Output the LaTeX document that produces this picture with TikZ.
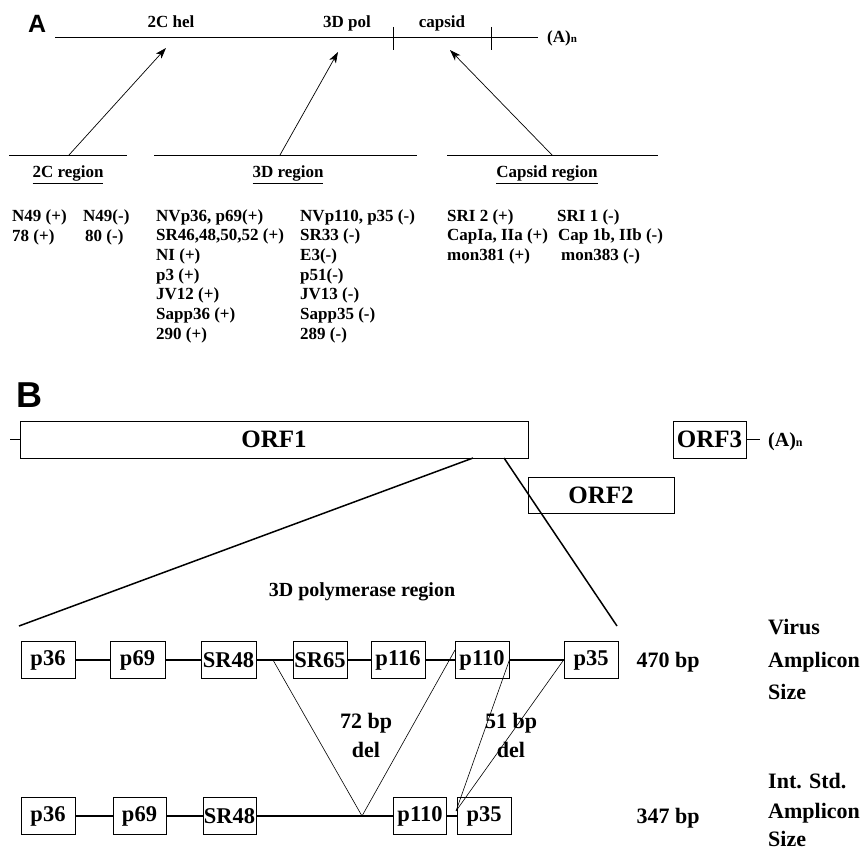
\documentclass[tikz,border=0pt]{standalone}
\usepackage{fontspec}
\setmainfont{Liberation Serif}
\newfontfamily\arialf{Liberation Sans}
\usetikzlibrary{arrows.meta}
\begin{document}
\begin{tikzpicture}[x=1pt,y=-1pt,
 lst/.style={font=\bfseries\fontsize{17}{20}\selectfont, inner sep=0pt, anchor=base west},
 hdr/.style={font=\bfseries\fontsize{17}{20}\selectfont, inner sep=0pt, anchor=base},
 thinline/.style={line width=0.8pt},
 arr/.style={line width=0.7pt, -{Stealth[length=11pt,width=7.5pt,inset=3pt]}},
 bx/.style={draw, line width=0.8pt, minimum height=37pt, inner sep=0pt, font=\bfseries\fontsize{22.5}{24}\selectfont},
 orfbx/.style={draw, line width=0.8pt, inner sep=0pt, font=\bfseries\fontsize{25}{28}\selectfont},
 conn/.style={line width=2pt},
 delline/.style={line width=0.6pt},
 big/.style={font=\bfseries\fontsize{22}{26}\selectfont, inner sep=0pt},
]
\useasboundingbox (0,0) rectangle (866,853);

% ---------- Part A ----------
\node[font=\arialf\bfseries\fontsize{25}{28}\selectfont, inner sep=0pt, anchor=base west] (labA) at (28,33) {A};
\coordinate (gL) at (55,37);
\coordinate (gR) at (538,37);
\draw[thinline] (gL) -- (gR);
\coordinate (t1a) at (393,27); \coordinate (t1b) at (393,50);
\coordinate (t2a) at (491,27); \coordinate (t2b) at (491,50);
\draw[thinline] (t1a) -- (t1b);
\draw[thinline] (t2a) -- (t2b);
\node[font=\bfseries\fontsize{17}{20}\selectfont, inner sep=0pt, anchor=base west] (polyA) at (547,43) {(A)\fontsize{11}{12}\selectfont n};
\node[hdr] (h2c) at (171,28) {2C hel};
\node[hdr] (h3d) at (347,28) {3D pol};
\node[hdr] (hcap) at (442,28) {capsid};

\coordinate (r2a) at (9,155);   \coordinate (r2b) at (127,155);
\coordinate (r3a) at (154,155); \coordinate (r3b) at (417,155);
\coordinate (rca) at (447,155); \coordinate (rcb) at (658,155);
\draw[thinline] (r2a) -- (r2b);
\draw[thinline] (r3a) -- (r3b);
\draw[thinline] (rca) -- (rcb);

\coordinate (a1s) at (69,155);  \coordinate (a1e) at (166,48);
\coordinate (a2s) at (280,155); \coordinate (a2e) at (338,52);
\coordinate (a3s) at (552,155); \coordinate (a3e) at (450,50);
\draw[arr] (a1s) -- (a1e);
\draw[arr] (a2s) -- (a2e);
\draw[arr] (a3s) -- (a3e);

\node[hdr] (reg2c) at (68,178) {\underline{2C region}};
\node[hdr] (reg3d) at (288,178) {\underline{3D region}};
\node[hdr] (regcap) at (547,178) {\underline{Capsid region}};

% lists
\node[lst] (c1r1) at (12,221) {N49 (+)};
\node[lst] (c1r2) at (12,241) {78 (+)};
\node[lst] (c2r1) at (83,221) {N49(-)};
\node[lst] (c2r2) at (85,241) {80 (-)};

\node[lst] (c3r1) at (156,221) {NVp36, p69(+)};
\node[lst] (c3r2) at (156,240.7) {SR46,48,50,52 (+)};
\node[lst] (c3r3) at (156,260.4) {NI (+)};
\node[lst] (c3r4) at (156,280.1) {p3 (+)};
\node[lst] (c3r5) at (156,299.8) {JV12 (+)};
\node[lst] (c3r6) at (156,319.5) {Sapp36 (+)};
\node[lst] (c3r7) at (156,339.2) {290 (+)};

\node[lst] (c4r1) at (300,221) {NVp110, p35 (-)};
\node[lst] (c4r2) at (300,240.7) {SR33 (-)};
\node[lst] (c4r3) at (300,260.4) {E3(-)};
\node[lst] (c4r4) at (300,280.1) {p51(-)};
\node[lst] (c4r5) at (300,299.8) {JV13 (-)};
\node[lst] (c4r6) at (300,319.5) {Sapp35 (-)};
\node[lst] (c4r7) at (300,339.2) {289 (-)};

\node[lst] (c5r1) at (447,221) {SRI 2 (+)};
\node[lst] (c5r2) at (447,240.7) {CapIa, IIa (+)};
\node[lst] (c5r3) at (447,260.4) {mon381 (+)};
\node[lst] (c6r1) at (557,221) {SRI 1 (-)};
\node[lst] (c6r2) at (558,240.7) {Cap 1b, IIb (-)};
\node[lst] (c6r3) at (561,260.4) {mon383 (-)};

% ---------- Part B ----------
\node[font=\arialf\bfseries\fontsize{36}{40}\selectfont, inner sep=0pt, anchor=base west] (labB) at (16,407) {B};

\node[orfbx, minimum width=508pt, minimum height=37pt] (orf1) at (274,439.5) {ORF1};
\node[orfbx, minimum width=73pt, minimum height=37pt] (orf3) at (709.5,439.5) {ORF3};
\node[orfbx, minimum width=146pt, minimum height=36pt] (orf2) at (601,495) {ORF2};
\coordinate (o1tick) at (10,439.5);
\draw[thinline] (o1tick) -- (orf1.west);
\coordinate (o3end) at (760,439.5);
\draw[thinline] (orf3.east) -- (o3end);
\node[font=\bfseries\fontsize{20}{24}\selectfont, inner sep=0pt, anchor=base west] (polyAB) at (768,446) {(A)\fontsize{12}{13}\selectfont n};

\coordinate (tl0) at (473,458); \coordinate (tl1) at (19,626);
\coordinate (tr0) at (504,458); \coordinate (tr1) at (617,626);
\draw[line width=1.5pt] (tl0) -- (tl1);
\draw[line width=1.5pt] (tr0) -- (tr1);
\node[font=\bfseries\fontsize{20}{24}\selectfont, inner sep=0pt] (polreg) at (362,592) {3D polymerase region};

% top row
\node[bx, minimum width=54pt] (tp36) at (48,660) {p36};
\node[bx, minimum width=55pt] (tp69) at (137.5,660) {p69};
\node[bx, minimum width=55pt] (tsr48) at (228.5,660) {SR48};
\node[bx, minimum width=54pt] (tsr65) at (320,660) {SR65};
\node[bx, minimum width=54pt] (tp116) at (398,660) {p116};
\node[bx, minimum width=54pt] (tp110) at (482,660) {p110};
\node[bx, minimum width=54pt] (tp35) at (591,660) {p35};
\draw[conn] (tp36) -- (tp69);
\draw[conn] (tp69) -- (tsr48);
\draw[conn] (tsr48) -- (tsr65);
\draw[conn] (tsr65) -- (tp116);
\draw[conn] (tp116) -- (tp110);
\draw[conn] (tp110) -- (tp35);

% bottom row
\node[bx, minimum width=54pt] (bp36) at (48,816) {p36};
\node[bx, minimum width=53pt] (bp69) at (139.5,816) {p69};
\node[bx, minimum width=53pt] (bsr48) at (229.5,816) {SR48};
\node[bx, minimum width=53pt] (bp110) at (420,816) {p110};
\node[bx, minimum width=54pt] (bp35) at (484,816) {p35};
\draw[conn] (bp36) -- (bp69);
\draw[conn] (bp69) -- (bsr48);
\draw[conn] (bsr48) -- (bp110);
\draw[conn] (bp110) -- (bp35);

% deletions
\coordinate (d1) at (273,660);
\coordinate (d2) at (455,650);
\coordinate (ap1) at (362,816);
\draw[delline] (d1) -- (ap1);
\draw[delline] (d2) -- (ap1);
\coordinate (ap2) at (456,811);
\draw[delline] (tp110.east) -- (ap2);
\draw[delline] (tp35.west) -- (ap2);
\node[big, anchor=base] (del72a) at (366,728) {72 bp};
\node[big, anchor=base] (del72b) at (366,757) {del};
\node[big, anchor=base] (del51a) at (511,728) {51 bp};
\node[big, anchor=base] (del51b) at (511,757) {del};

% right labels
\node[big, anchor=base] (bp470) at (668,667) {470 bp};
\node[big, anchor=base west] (vir1) at (768,634) {Virus};
\node[big, anchor=base west] (vir2) at (768,667) {Amplicon};
\node[big, anchor=base west] (vir3) at (768,699) {Size};
\node[big, anchor=base] (bp347) at (668,823) {347 bp};
\node[big, anchor=base west] (int1) at (768,788) {Int. Std.};
\node[big, anchor=base west] (int2) at (768,818) {Amplicon};
\node[big, anchor=base west] (int3) at (768,846) {Size};
\end{tikzpicture}
\end{document}
